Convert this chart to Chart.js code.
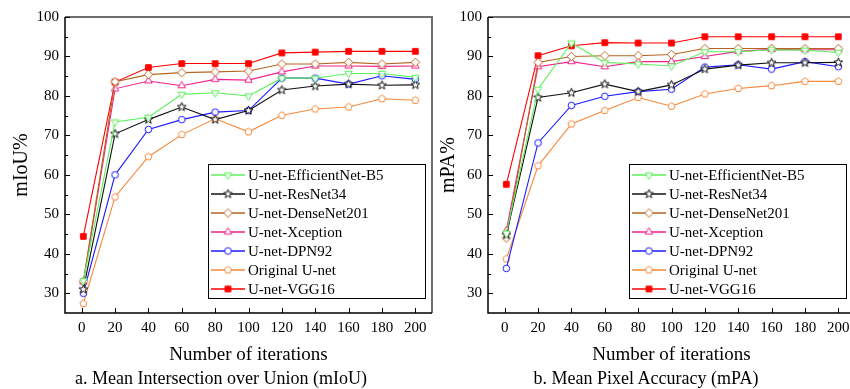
<!DOCTYPE html>
<html>
<head>
<meta charset="utf-8">
<script src="https://cdn.jsdelivr.net/npm/chart.js@4.4.0/dist/chart.umd.min.js"></script>
<style>
  body { margin:0; width:850px; height:389px; overflow:hidden; background:#fff; position:relative; font-family:"Liberation Serif", serif; }
  .box { position:absolute; top:0; width:440px; height:370px; }
  .cap { position:absolute; top:368px; font-size:18px; line-height:20px; white-space:nowrap; transform:translateX(-50%); color:#000; }
</style>
</head>
<body>
<div class="box" style="left:0"><canvas id="miou" width="440" height="370"></canvas></div>
<div class="box" style="left:425px"><canvas id="mpa" width="440" height="370"></canvas></div>
<div class="cap" style="left:221px">a. Mean Intersection over Union (mIoU)</div>
<div class="cap" style="left:646px">b. Mean Pixel Accuracy (mPA)</div>
<script>
// data
var iterations = [1, 20, 40, 60, 80, 100, 120, 140, 160, 180, 200]
var models = ['U-net-EfficientNet-B5', 'U-net-ResNet34', 'U-net-DenseNet201', 'U-net-Xception', 'U-net-DPN92', 'Original U-net', 'U-net-VGG16']

var miouEff   = [33.2, 73.4, 74.6, 80.4, 80.8, 80.0, 84.5, 84.5, 85.7, 85.7, 84.7]
var miouRes   = [31.0, 70.4, 74.0, 77.2, 74.0, 76.3, 81.5, 82.5, 83.0, 82.7, 82.8]
var miouDense = [33.0, 83.6, 85.4, 85.9, 86.1, 86.3, 88.1, 88.1, 88.5, 88.1, 88.5]
var miouXcep  = [32.9, 81.8, 83.8, 82.6, 84.2, 84.0, 86.1, 87.6, 87.6, 87.5, 87.6]
var miouDpn   = [30.0, 60.0, 71.5, 74.0, 75.9, 76.3, 84.5, 84.5, 83.0, 85.1, 84.2]
var miouOrig  = [27.4, 54.4, 64.6, 70.2, 74.2, 70.9, 75.1, 76.7, 77.2, 79.3, 78.9]
var miouVgg   = [44.4, 83.5, 87.2, 88.2, 88.2, 88.2, 90.9, 91.1, 91.3, 91.3, 91.3]

var mpaEff   = [45.2, 81.7, 93.4, 88.5, 88.1, 87.6, 91.2, 91.2, 91.7, 91.6, 91.0]
var mpaRes   = [44.8, 79.6, 80.8, 83.0, 81.1, 82.8, 86.8, 87.8, 88.4, 88.4, 88.5]
var mpaDense = [44.0, 88.5, 90.0, 90.2, 90.2, 90.5, 92.0, 92.0, 92.0, 92.0, 92.0]
var mpaXcep  = [45.9, 87.4, 88.7, 87.4, 88.7, 88.7, 90.0, 91.3, 91.8, 91.7, 91.7]
var mpaDpn   = [36.3, 68.1, 77.6, 79.9, 81.1, 81.7, 87.3, 87.9, 86.8, 88.7, 87.4]
var mpaOrig  = [38.7, 62.3, 72.9, 76.3, 79.6, 77.4, 80.5, 81.9, 82.6, 83.7, 83.7]
var mpaVgg   = [57.6, 90.2, 92.7, 93.5, 93.4, 93.4, 95.0, 95.0, 95.0, 95.0, 95.0]

var xTicks = [0, 20, 40, 60, 80, 100, 120, 140, 160, 180, 200]
var yTicks = [30, 40, 50, 60, 70, 80, 90, 100]
var yMinor = [35, 45, 55, 65, 75, 85, 95]

var serif = '"Liberation Serif", "Times New Roman", serif'

// marker pictures
function marker(shape, color, fill) {
  var c = document.createElement('canvas')
  c.width = 13; c.height = 13
  var g = c.getContext('2d')
  g.translate(6.5, 6.5)
  g.strokeStyle = color
  g.fillStyle = fill
  g.lineWidth = 1
  g.beginPath()
  if (shape == 'circle') {
    g.arc(0, 0, 3.3, 0, Math.PI * 2)
  } else if (shape == 'star') {
    for (var i = 0; i < 10; i++) {
      var r = i % 2 ? 1.9 : 4.6
      var a = -Math.PI / 2 + i * Math.PI / 5
      g.lineTo(r * Math.cos(a), r * Math.sin(a))
    }
  } else {
    var n = shape.n, rad = shape.r, st = shape.start
    for (var k = 0; k < n; k++) {
      var an = st + k * 2 * Math.PI / n
      g.lineTo(rad * Math.cos(an), rad * Math.sin(an))
    }
  }
  g.closePath()
  g.fill()
  g.stroke()
  return c
}

var colors = ['#5df05d', '#111111', '#b6641f', '#f0228a', '#1c1cff', '#f5883a', '#ff0000']
var markers = [
  marker({n: 3, r: 4.3, start: Math.PI / 2}, colors[0], '#fff'),
  marker('star', colors[1], '#fff'),
  marker({n: 4, r: 4.3, start: -Math.PI / 2}, colors[2], '#fff'),
  marker({n: 3, r: 4.3, start: -Math.PI / 2}, colors[3], '#fff'),
  marker('circle', colors[4], '#fff'),
  marker({n: 5, r: 3.7, start: -Math.PI / 2}, colors[5], '#fff'),
  marker({n: 4, r: 4.0, start: Math.PI / 4}, colors[6], colors[6])
]

function toPoints(vals) {
  return vals.map(function(v, i) { return {x: iterations[i], y: v} })
}

function datasets(series) {
  return series.map(function(vals, i) {
    return {
      label: models[i],
      data: toPoints(vals),
      borderColor: colors[i],
      backgroundColor: colors[i],
      borderWidth: 1.1,
      pointStyle: markers[i],
      pointRadius: 4,
      tension: 0
    }
  })
}

// axis frame, inward ticks, boxed legend
var frameTicks = {
  id: 'frameTicks',
  afterDraw: function(chart) {
    var ctx = chart.ctx, a = chart.chartArea
    var xs = chart.scales.x, ys = chart.scales.y
    ctx.save()
    ctx.strokeStyle = '#6e6e6e'
    ctx.lineWidth = 2
    ctx.beginPath()
    ctx.moveTo(a.left, a.top); ctx.lineTo(a.right, a.top); ctx.lineTo(a.right, a.bottom)
    ctx.stroke()
    ctx.strokeStyle = '#000'
    ctx.lineWidth = 1.5
    ctx.beginPath()
    ctx.moveTo(a.left, a.top); ctx.lineTo(a.left, a.bottom); ctx.lineTo(a.right, a.bottom)
    ctx.stroke()
    ctx.lineWidth = 1
    ctx.beginPath()
    yTicks.forEach(function(v) {
      var p = Math.round(ys.getPixelForValue(v)) + 0.5
      ctx.moveTo(a.left, p); ctx.lineTo(a.left + 5, p)
    })
    yMinor.forEach(function(v) {
      var p = Math.round(ys.getPixelForValue(v)) + 0.5
      ctx.moveTo(a.left, p); ctx.lineTo(a.left + 3, p)
    })
    xTicks.forEach(function(v) {
      var p = Math.round(xs.getPixelForValue(v)) + 0.5
      ctx.moveTo(p, a.bottom); ctx.lineTo(p, a.bottom - 5)
    })
    ctx.stroke()

    var lg = chart.options.plugins.boxLegend
    ctx.fillStyle = '#fff'
    ctx.fillRect(lg.left, lg.top, lg.width, lg.height)
    ctx.strokeStyle = '#000'
    ctx.lineWidth = 1
    ctx.strokeRect(lg.left + 0.5, lg.top + 0.5, lg.width, lg.height)
    ctx.font = '15px ' + serif
    ctx.textBaseline = 'middle'
    ctx.fillStyle = '#000'
    chart.data.datasets.forEach(function(ds, i) {
      var yy = lg.top + 11 + i * 19
      ctx.strokeStyle = ds.borderColor
      ctx.lineWidth = 1.3
      ctx.beginPath()
      ctx.moveTo(lg.left + 3, yy); ctx.lineTo(lg.left + 37, yy)
      ctx.stroke()
      ctx.drawImage(ds.pointStyle, lg.left + 20 - 6.5, yy - 6.5)
      ctx.fillText(ds.label, lg.left + 40, yy + 1)
    })
    ctx.restore()
  }
}

function makeChart(id, series, yTitle, yWidth, titlePad, padRight, legendLeft) {
  return new Chart(document.getElementById(id), {
    type: 'line',
    data: { datasets: datasets(series) },
    options: {
      responsive: false,
      animation: false,
      layout: { padding: { top: 17, right: padRight, left: 0, bottom: 0 } },
      plugins: {
        legend: { display: false },
        tooltip: { enabled: false },
        boxLegend: { left: legendLeft, top: 164, width: 217, height: 134 }
      },
      scales: {
        x: {
          type: 'linear', min: -10, max: 210,
          afterFit: function(s) { s.height = 57 },
          afterBuildTicks: function(s) { s.ticks = xTicks.map(function(v) { return {value: v} }) },
          grid: { display: false, drawTicks: false },
          border: { display: false },
          ticks: { color: '#000', font: { family: serif, size: 15 }, padding: 6, maxRotation: 0 },
          title: { display: true, text: 'Number of iterations', color: '#000', font: { family: serif, size: 19 }, padding: { top: 0, bottom: 4 } }
        },
        y: {
          min: 25, max: 100,
          afterFit: function(s) { s.width = yWidth },
          afterBuildTicks: function(s) { s.ticks = yTicks.map(function(v) { return {value: v} }) },
          grid: { display: false, drawTicks: false },
          border: { display: false },
          ticks: { color: '#000', font: { family: serif, size: 15 }, padding: 6 },
          title: { display: true, text: yTitle, color: '#000', font: { family: serif, size: 20 }, padding: { top: titlePad, bottom: 0 } }
        }
      }
    },
    plugins: [frameTicks]
  })
}

makeChart('miou', [miouEff, miouRes, miouDense, miouXcep, miouDpn, miouOrig, miouVgg], 'mIoU%', 65, 10, 8, 208)
makeChart('mpa', [mpaEff, mpaRes, mpaDense, mpaXcep, mpaDpn, mpaOrig, mpaVgg], 'mPA%', 63, 12, 10, 204)
</script>
</body>
</html>
